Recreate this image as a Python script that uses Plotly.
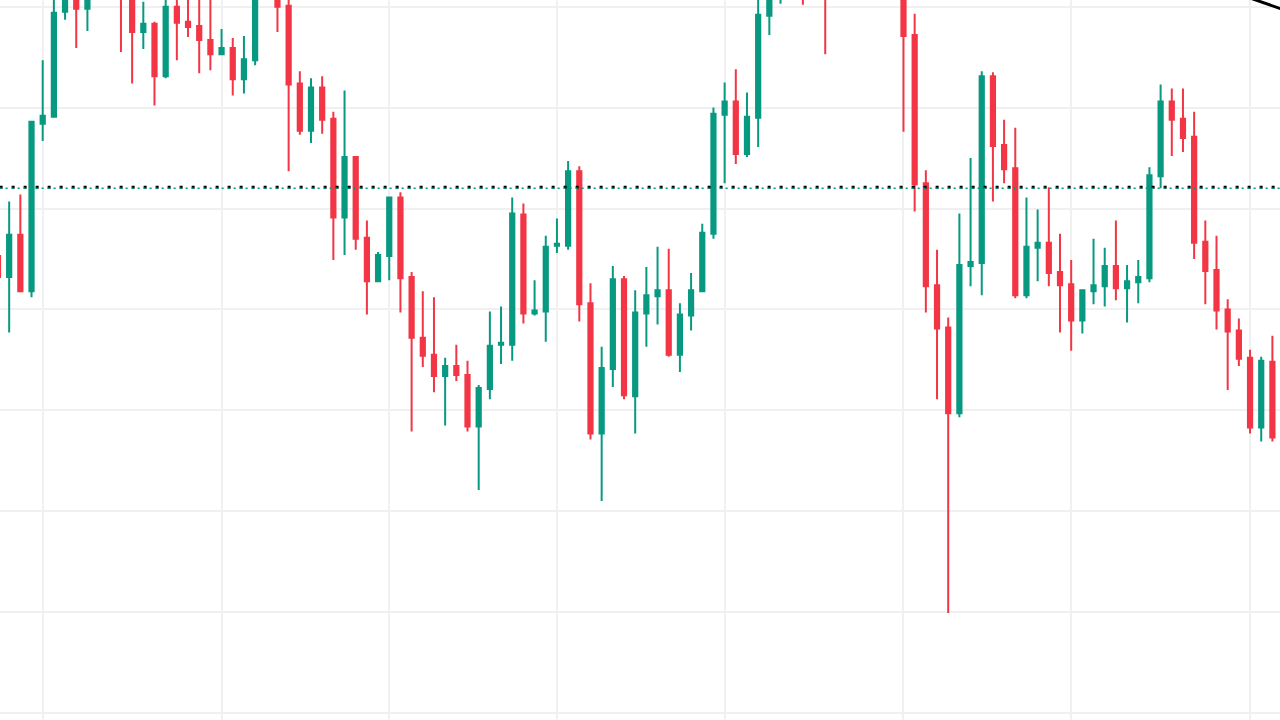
import plotly.graph_objects as go

# Candle index (one per period)
index = list(range(115))

opens = [553, 532, 574, 518, 684, 691, 795, 817, 798, 817,
         835, 825, 812, 775, 783, 731, 800, 785, 781, 767,
         753, 759, 728, 747, 817, 822, 801, 724, 677, 720,
         689, 591, 651, 571, 528, 553, 611, 532, 472, 455,
         434, 444, 435, 384, 421, 465, 465, 594, 496, 498,
         563, 563, 637, 506, 377, 441, 530, 414, 496, 513,
         519, 455, 494, 518, 575, 693, 706, 654, 690, 791,
         817, 827, 835, 818, 830, 815, 835, 850, 845, 855,
         850, 817, 772, 625, 524, 482, 397, 543, 546, 731,
         663, 640, 514, 561, 566, 537, 525, 489, 518, 523,
         543, 521, 527, 531, 632, 706, 689, 671, 567, 539,
         500, 479, 452, 383, 448]
highs = [557, 607, 614, 687, 747, 810, 822, 822, 827, 840,
         845, 830, 815, 805, 785, 812, 812, 810, 812, 812,
         778, 769, 771, 827, 835, 827, 809, 736, 729, 731,
         696, 717, 652, 588, 557, 612, 616, 537, 518, 512,
         452, 465, 449, 425, 498, 503, 611, 605, 529, 573,
         590, 647, 642, 526, 463, 543, 533, 519, 542, 562,
         560, 506, 536, 585, 700, 725, 738, 715, 809, 822,
         832, 845, 840, 835, 838, 840, 855, 865, 860, 870,
         858, 827, 793, 638, 559, 492, 595, 650, 736, 735,
         688, 680, 611, 599, 621, 575, 549, 520, 570, 561,
         588, 544, 549, 641, 723, 719, 719, 696, 588, 573,
         510, 491, 460, 453, 474]
lows = [529, 477, 517, 512, 667, 690, 787, 759, 776, 812,
        815, 755, 724, 758, 702, 729, 747, 770, 734, 737,
        752, 712, 714, 742, 812, 775, 637, 673, 665, 674,
        549, 554, 559, 495, 527, 529, 497, 379, 443, 418,
        385, 429, 379, 321, 411, 446, 449, 486, 494, 468,
        556, 559, 488, 371, 310, 423, 411, 377, 463, 485,
        453, 438, 479, 517, 570, 625, 644, 651, 661, 772,
        803, 820, 802, 812, 753, 810, 828, 840, 830, 845,
        835, 676, 597, 497, 411, 199, 393, 523, 514, 607,
        625, 511, 511, 528, 523, 477, 459, 476, 505, 503,
        509, 487, 506, 527, 620, 652, 656, 550, 505, 480,
        420, 444, 377, 369, 369]
closes = [532, 574, 518, 686, 692, 794, 815, 798, 817, 835,
          825, 812, 775, 783, 731, 800, 784, 780, 767, 753,
          759, 728, 748, 817, 828, 800, 723, 677, 720, 688,
          591, 651, 570, 528, 554, 611, 531, 472, 454, 434,
          444, 435, 384, 422, 464, 467, 595, 496, 499, 562,
          565, 637, 505, 377, 442, 530, 415, 497, 514, 519,
          455, 495, 519, 576, 694, 706, 654, 691, 792, 812,
          827, 838, 818, 830, 815, 835, 850, 845, 855, 850,
          840, 771, 624, 523, 481, 397, 544, 547, 731, 662,
          639, 514, 562, 566, 536, 524, 489, 519, 524, 543,
          521, 528, 532, 633, 706, 688, 670, 566, 538, 499,
          478, 451, 383, 449, 373]

# Reference level (dotted) and trend line
level_value = 621
level_span = [-2, 117]
trend_x = [111.1, 116.5]
trend_y = [812.1, 791.2]

# Axis grid positions
x_grid = [4, 20, 35, 50, 65, 81, 96, 112]
y_grid = [100, 200, 300, 400, 500, 600, 700, 800]

UP = "#089981"
DOWN = "#F23645"
GRID = "#f0f0f0"

fig = go.Figure()

fig.add_trace(go.Scatter(
    x=level_span, y=[level_value, level_value], mode="lines",
    line=dict(color="black", width=3, dash="3px,9px"), hoverinfo="skip"))
fig.add_trace(go.Scatter(
    x=level_span, y=[level_value - 1, level_value - 1], mode="lines",
    line=dict(color=UP, width=1.5, dash="2px,4px"), hoverinfo="skip"))

fig.add_trace(go.Candlestick(
    x=index, open=opens, high=highs, low=lows, close=closes,
    increasing=dict(line=dict(color=UP, width=2), fillcolor=UP),
    decreasing=dict(line=dict(color=DOWN, width=2), fillcolor=DOWN),
    whiskerwidth=0))

fig.add_trace(go.Scatter(
    x=trend_x, y=trend_y, mode="lines",
    line=dict(color="black", width=3), hoverinfo="skip"))

fig.update_layout(
    width=1280, height=720,
    margin=dict(l=0, r=0, t=0, b=0),
    paper_bgcolor="white", plot_bgcolor="white",
    showlegend=False,
    boxgap=0.46,
    xaxis=dict(range=[0.18, 114.68], tickvals=x_grid, showticklabels=False,
               showgrid=True, gridcolor=GRID, gridwidth=2, zeroline=False,
               showline=False, rangeslider=dict(visible=False), ticks=""),
    yaxis=dict(range=[93.06, 806.65], tickvals=y_grid, showticklabels=False,
               showgrid=True, gridcolor=GRID, gridwidth=2, zeroline=False,
               showline=False, ticks=""),
)

fig.write_html(
    "out.html",
    config={"displayModeBar": False},
    post_script="document.body.style.margin='0';document.body.style.overflow='hidden';",
)
